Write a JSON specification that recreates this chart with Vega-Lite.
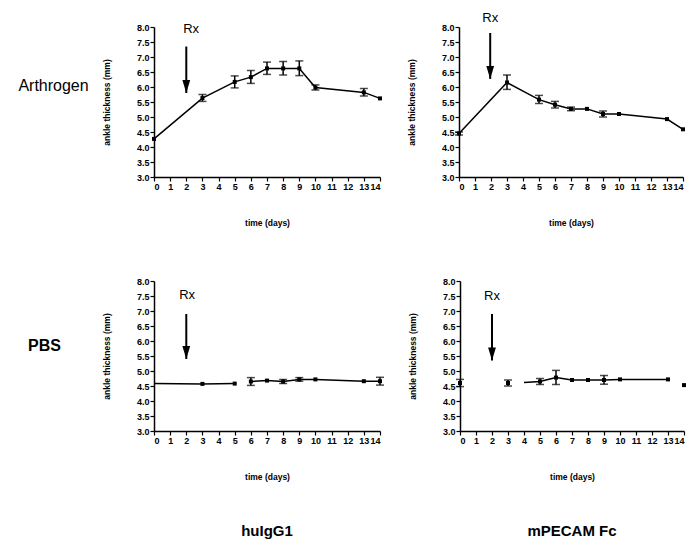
{
  "$schema": "https://vega.github.io/schema/vega-lite/v6.json",
  "background": "white",
  "padding": {"left": 0, "top": 11, "right": 0, "bottom": 0},
  "config": {
    "view": {"stroke": null},
    "font": "Liberation Sans",
    "axis": {
      "domainColor": "black", "tickColor": "black", "labelColor": "black", "titleColor": "black",
      "labelFont": "Liberation Sans", "labelFontWeight": "bold", "labelFontSize": 9,
      "titleFont": "Liberation Sans", "titleFontSize": 8.5, "titleFontWeight": "bold",
      "grid": false, "domainWidth": 1.5, "tickWidth": 1.2, "tickSize": 4, "labelPadding": 1,
      "labelOverlap": false
    },
    "axisX": {"titlePadding": 27},
    "axisY": {"titlePadding": 25}
  },
  "datasets": {
    "pts": [
      {"p": "A_hu", "day": 0, "mean": 4.27, "lo": null, "hi": null, "seg": "a", "m": 1},
      {"p": "A_hu", "day": 3, "mean": 5.63, "lo": 5.52, "hi": 5.75, "seg": "a", "m": 1},
      {"p": "A_hu", "day": 5, "mean": 6.17, "lo": 5.97, "hi": 6.37, "seg": "a", "m": 1},
      {"p": "A_hu", "day": 6, "mean": 6.33, "lo": 6.12, "hi": 6.55, "seg": "a", "m": 1},
      {"p": "A_hu", "day": 7, "mean": 6.62, "lo": 6.42, "hi": 6.83, "seg": "a", "m": 1},
      {"p": "A_hu", "day": 8, "mean": 6.62, "lo": 6.40, "hi": 6.85, "seg": "a", "m": 1},
      {"p": "A_hu", "day": 9, "mean": 6.62, "lo": 6.38, "hi": 6.87, "seg": "a", "m": 1},
      {"p": "A_hu", "day": 10, "mean": 5.98, "lo": 5.90, "hi": 6.07, "seg": "a", "m": 1},
      {"p": "A_hu", "day": 13, "mean": 5.82, "lo": 5.70, "hi": 5.95, "seg": "a", "m": 1},
      {"p": "A_hu", "day": 14, "mean": 5.62, "lo": null, "hi": null, "seg": "a", "m": 1},

      {"p": "A_mp", "day": 0, "mean": 4.45, "lo": 4.40, "hi": 4.50, "seg": "a", "m": 1},
      {"p": "A_mp", "day": 3, "mean": 6.15, "lo": 5.92, "hi": 6.40, "seg": "a", "m": 1},
      {"p": "A_mp", "day": 5, "mean": 5.58, "lo": 5.45, "hi": 5.72, "seg": "a", "m": 1},
      {"p": "A_mp", "day": 6, "mean": 5.41, "lo": 5.30, "hi": 5.52, "seg": "a", "m": 1},
      {"p": "A_mp", "day": 7, "mean": 5.27, "lo": 5.21, "hi": 5.33, "seg": "a", "m": 1},
      {"p": "A_mp", "day": 8, "mean": 5.27, "lo": null, "hi": null, "seg": "a", "m": 1},
      {"p": "A_mp", "day": 9, "mean": 5.10, "lo": 5.00, "hi": 5.20, "seg": "a", "m": 1},
      {"p": "A_mp", "day": 10, "mean": 5.10, "lo": null, "hi": null, "seg": "a", "m": 1},
      {"p": "A_mp", "day": 13, "mean": 4.93, "lo": null, "hi": null, "seg": "a", "m": 1},
      {"p": "A_mp", "day": 14, "mean": 4.59, "lo": null, "hi": null, "seg": "a", "m": 1},

      {"p": "P_hu", "day": 0, "mean": 4.58, "lo": null, "hi": null, "seg": "a", "m": 0},
      {"p": "P_hu", "day": 3, "mean": 4.57, "lo": null, "hi": null, "seg": "a", "m": 1},
      {"p": "P_hu", "day": 5, "mean": 4.58, "lo": null, "hi": null, "seg": "a", "m": 1},
      {"p": "P_hu", "day": 6, "mean": 4.65, "lo": 4.52, "hi": 4.78, "seg": "b", "m": 1},
      {"p": "P_hu", "day": 7, "mean": 4.68, "lo": null, "hi": null, "seg": "b", "m": 1},
      {"p": "P_hu", "day": 8, "mean": 4.65, "lo": 4.58, "hi": 4.72, "seg": "b", "m": 1},
      {"p": "P_hu", "day": 9, "mean": 4.72, "lo": 4.66, "hi": 4.78, "seg": "b", "m": 1},
      {"p": "P_hu", "day": 10, "mean": 4.72, "lo": null, "hi": null, "seg": "b", "m": 1},
      {"p": "P_hu", "day": 13, "mean": 4.66, "lo": null, "hi": null, "seg": "b", "m": 1},
      {"p": "P_hu", "day": 14, "mean": 4.66, "lo": 4.53, "hi": 4.79, "seg": "b", "m": 1},

      {"p": "P_mp", "day": 0, "mean": 4.60, "lo": 4.48, "hi": 4.72, "seg": "a", "m": 1},
      {"p": "P_mp", "day": 3, "mean": 4.60, "lo": 4.50, "hi": 4.70, "seg": "b", "m": 1},
      {"p": "P_mp", "day": 4, "mean": 4.62, "lo": null, "hi": null, "seg": "c", "m": 0},
      {"p": "P_mp", "day": 5, "mean": 4.65, "lo": 4.55, "hi": 4.75, "seg": "c", "m": 1},
      {"p": "P_mp", "day": 6, "mean": 4.78, "lo": 4.55, "hi": 5.02, "seg": "c", "m": 1},
      {"p": "P_mp", "day": 7, "mean": 4.70, "lo": null, "hi": null, "seg": "c", "m": 1},
      {"p": "P_mp", "day": 8, "mean": 4.70, "lo": null, "hi": null, "seg": "c", "m": 1},
      {"p": "P_mp", "day": 9, "mean": 4.70, "lo": 4.56, "hi": 4.85, "seg": "c", "m": 1},
      {"p": "P_mp", "day": 10, "mean": 4.72, "lo": null, "hi": null, "seg": "c", "m": 1},
      {"p": "P_mp", "day": 13, "mean": 4.72, "lo": null, "hi": null, "seg": "c", "m": 1},
      {"p": "P_mp", "day": 14, "mean": 4.53, "lo": null, "hi": null, "seg": "d", "m": 1}
    ],
    "rx": [
      {"p": "A_hu", "x": 2, "top": 7.35, "tip": 5.8, "lx": 2.3, "ly": 7.95, "t": "Rx"},
      {"p": "A_mp", "x": 1.95, "top": 7.8, "tip": 6.27, "lx": 1.95, "ly": 8.3, "t": "Rx"},
      {"p": "P_hu", "x": 2, "top": 6.9, "tip": 5.4, "lx": 2.05, "ly": 7.53, "t": "Rx"},
      {"p": "P_mp", "x": 2, "top": 6.9, "tip": 5.35, "lx": 2.0, "ly": 7.5, "t": "Rx"}
    ]
  },
  "vconcat": [
    {
      "hconcat": [
        {
          "hconcat": [
            {
              "width": 95, "height": 150,
              "data": {"values": [{"t": "Arthrogen"}]},
              "mark": {"type": "text", "fontSize": 16, "dy": -16, "dx": 6, "color": "black"},
              "encoding": {"text": {"field": "t"}}
            },
            {
              "width": 226, "height": 150,
              "layer": [
                {
                  "data": {"name": "pts"},
                  "transform": [{"filter": "datum.p == 'A_hu'"}],
                  "mark": {"type": "line", "color": "black", "strokeWidth": 1.5},
                  "encoding": {
                    "x": {"field": "day", "type": "quantitative", "title": "time (days)", "scale": {"domain": [0, 14], "nice": false}, "axis": {"values": [0,1,2,3,4,5,6,7,8,9,10,11,12,13,14], "format": "d", "labelOverlap": false}},
                    "y": {"field": "mean", "type": "quantitative", "title": "ankle thickness (mm)", "scale": {"domain": [3, 8], "nice": false, "zero": false}, "axis": {"values": [3,3.5,4,4.5,5,5.5,6,6.5,7,7.5,8], "format": ".1f", "labelOverlap": false}},
                    "detail": {"field": "seg"}
                  }
                },
                {
                  "data": {"name": "pts"},
                  "transform": [{"filter": "datum.p == 'A_hu' && datum.lo != null"}],
                  "mark": {"type": "errorbar", "color": "black", "ticks": {"size": 8, "thickness": 1.5}, "thickness": 1.5},
                  "encoding": {
                    "x": {"field": "day", "type": "quantitative", "title": "time (days)", "axis": {"values": [0,1,2,3,4,5,6,7,8,9,10,11,12,13,14], "format": "d", "labelOverlap": false}},
                    "y": {"field": "lo", "type": "quantitative", "title": "ankle thickness (mm)", "axis": {"values": [3,3.5,4,4.5,5,5.5,6,6.5,7,7.5,8], "format": ".1f", "labelOverlap": false}},
                    "y2": {"field": "hi"}}
                },
                {
                  "data": {"name": "pts"},
                  "transform": [{"filter": "datum.p == 'A_hu' && datum.m == 1"}],
                  "mark": {"type": "point", "shape": "square", "filled": true, "color": "black", "size": 16, "opacity": 1},
                  "encoding": {
                    "x": {"field": "day", "type": "quantitative", "title": "time (days)", "axis": {"values": [0,1,2,3,4,5,6,7,8,9,10,11,12,13,14], "format": "d", "labelOverlap": false}},
                    "y": {"field": "mean", "type": "quantitative", "title": "ankle thickness (mm)", "axis": {"values": [3,3.5,4,4.5,5,5.5,6,6.5,7,7.5,8], "format": ".1f", "labelOverlap": false}}}
                },
                {
                  "data": {"name": "rx"},
                  "transform": [{"filter": "datum.p == 'A_hu'"}],
                  "mark": {"type": "rule", "color": "black", "strokeWidth": 2, "clip": false},
                  "encoding": {
                    "x": {"field": "x", "type": "quantitative", "title": "time (days)", "axis": {"values": [0,1,2,3,4,5,6,7,8,9,10,11,12,13,14], "format": "d", "labelOverlap": false}},
                    "y": {"field": "top", "type": "quantitative", "title": "ankle thickness (mm)", "axis": {"values": [3,3.5,4,4.5,5,5.5,6,6.5,7,7.5,8], "format": ".1f", "labelOverlap": false}},
                    "y2": {"field": "tip"}}
                },
                {
                  "data": {"name": "rx"},
                  "transform": [{"filter": "datum.p == 'A_hu'"}],
                  "mark": {"type": "point", "shape": "M-0.6,-2L0.6,-2L0,0Z", "filled": true, "color": "black", "size": 169, "opacity": 1},
                  "encoding": {
                    "x": {"field": "x", "type": "quantitative", "title": "time (days)", "axis": {"values": [0,1,2,3,4,5,6,7,8,9,10,11,12,13,14], "format": "d", "labelOverlap": false}},
                    "y": {"field": "tip", "type": "quantitative", "title": "ankle thickness (mm)", "axis": {"values": [3,3.5,4,4.5,5,5.5,6,6.5,7,7.5,8], "format": ".1f", "labelOverlap": false}}}
                },
                {
                  "data": {"name": "rx"},
                  "transform": [{"filter": "datum.p == 'A_hu'"}],
                  "mark": {"type": "text", "fontSize": 13, "color": "black"},
                  "encoding": {
                    "x": {"field": "lx", "type": "quantitative", "title": "time (days)", "axis": {"values": [0,1,2,3,4,5,6,7,8,9,10,11,12,13,14], "format": "d", "labelOverlap": false}},
                    "y": {"field": "ly", "type": "quantitative", "title": "ankle thickness (mm)", "axis": {"values": [3,3.5,4,4.5,5,5.5,6,6.5,7,7.5,8], "format": ".1f", "labelOverlap": false}},
                    "text": {"field": "t"}}
                }
              ]
            }
          ],
          "spacing": 7
        },
        {
          "width": 224, "height": 150,
          "layer": [
            {
              "data": {"name": "pts"},
              "transform": [{"filter": "datum.p == 'A_mp'"}],
              "mark": {"type": "line", "color": "black", "strokeWidth": 1.5},
              "encoding": {
                "x": {"field": "day", "type": "quantitative", "title": "time (days)", "scale": {"domain": [0, 14], "nice": false}, "axis": {"values": [0,1,2,3,4,5,6,7,8,9,10,11,12,13,14], "format": "d", "labelOverlap": false}},
                "y": {"field": "mean", "type": "quantitative", "title": "ankle thickness (mm)", "scale": {"domain": [3, 8], "nice": false, "zero": false}, "axis": {"values": [3,3.5,4,4.5,5,5.5,6,6.5,7,7.5,8], "format": ".1f", "labelOverlap": false}},
                "detail": {"field": "seg"}
              }
            },
            {
              "data": {"name": "pts"},
              "transform": [{"filter": "datum.p == 'A_mp' && datum.lo != null"}],
              "mark": {"type": "errorbar", "color": "black", "ticks": {"size": 8, "thickness": 1.5}, "thickness": 1.5},
              "encoding": {
                "x": {"field": "day", "type": "quantitative", "title": "time (days)", "axis": {"values": [0,1,2,3,4,5,6,7,8,9,10,11,12,13,14], "format": "d", "labelOverlap": false}},
                "y": {"field": "lo", "type": "quantitative", "title": "ankle thickness (mm)", "axis": {"values": [3,3.5,4,4.5,5,5.5,6,6.5,7,7.5,8], "format": ".1f", "labelOverlap": false}},
                "y2": {"field": "hi"}}
            },
            {
              "data": {"name": "pts"},
              "transform": [{"filter": "datum.p == 'A_mp' && datum.m == 1"}],
              "mark": {"type": "point", "shape": "square", "filled": true, "color": "black", "size": 16, "opacity": 1},
              "encoding": {
                "x": {"field": "day", "type": "quantitative", "title": "time (days)", "axis": {"values": [0,1,2,3,4,5,6,7,8,9,10,11,12,13,14], "format": "d", "labelOverlap": false}},
                "y": {"field": "mean", "type": "quantitative", "title": "ankle thickness (mm)", "axis": {"values": [3,3.5,4,4.5,5,5.5,6,6.5,7,7.5,8], "format": ".1f", "labelOverlap": false}}}
            },
            {
              "data": {"name": "rx"},
              "transform": [{"filter": "datum.p == 'A_mp'"}],
              "mark": {"type": "rule", "color": "black", "strokeWidth": 2, "clip": false},
              "encoding": {
                "x": {"field": "x", "type": "quantitative", "title": "time (days)", "axis": {"values": [0,1,2,3,4,5,6,7,8,9,10,11,12,13,14], "format": "d", "labelOverlap": false}},
                "y": {"field": "top", "type": "quantitative", "title": "ankle thickness (mm)", "axis": {"values": [3,3.5,4,4.5,5,5.5,6,6.5,7,7.5,8], "format": ".1f", "labelOverlap": false}},
                "y2": {"field": "tip"}}
            },
            {
              "data": {"name": "rx"},
              "transform": [{"filter": "datum.p == 'A_mp'"}],
              "mark": {"type": "point", "shape": "M-0.6,-2L0.6,-2L0,0Z", "filled": true, "color": "black", "size": 169, "opacity": 1},
              "encoding": {
                "x": {"field": "x", "type": "quantitative", "title": "time (days)", "axis": {"values": [0,1,2,3,4,5,6,7,8,9,10,11,12,13,14], "format": "d", "labelOverlap": false}},
                "y": {"field": "tip", "type": "quantitative", "title": "ankle thickness (mm)", "axis": {"values": [3,3.5,4,4.5,5,5.5,6,6.5,7,7.5,8], "format": ".1f", "labelOverlap": false}}}
            },
            {
              "data": {"name": "rx"},
              "transform": [{"filter": "datum.p == 'A_mp'"}],
              "mark": {"type": "text", "fontSize": 13, "color": "black"},
              "encoding": {
                "x": {"field": "lx", "type": "quantitative", "title": "time (days)", "axis": {"values": [0,1,2,3,4,5,6,7,8,9,10,11,12,13,14], "format": "d", "labelOverlap": false}},
                "y": {"field": "ly", "type": "quantitative", "title": "ankle thickness (mm)", "axis": {"values": [3,3.5,4,4.5,5,5.5,6,6.5,7,7.5,8], "format": ".1f", "labelOverlap": false}},
                "text": {"field": "t"}}
            }
          ]
        }
      ],
      "spacing": 24
    },
    {
      "hconcat": [
        {
          "hconcat": [
            {
              "width": 95, "height": 150,
              "data": {"values": [{"t": "PBS"}]},
              "mark": {"type": "text", "fontSize": 16, "fontWeight": "bold", "dy": -10, "dx": -3, "color": "black"},
              "encoding": {"text": {"field": "t"}}
            },
            {
              "width": 226, "height": 150,
              "title": {"text": "huIgG1", "orient": "bottom", "fontSize": 15, "fontWeight": "bold", "font": "Liberation Sans", "color": "black", "offset": 43},
              "layer": [
                {
                  "data": {"name": "pts"},
                  "transform": [{"filter": "datum.p == 'P_hu'"}],
                  "mark": {"type": "line", "color": "black", "strokeWidth": 1.5},
                  "encoding": {
                    "x": {"field": "day", "type": "quantitative", "title": "time (days)", "scale": {"domain": [0, 14], "nice": false}, "axis": {"values": [0,1,2,3,4,5,6,7,8,9,10,11,12,13,14], "format": "d", "labelOverlap": false}},
                    "y": {"field": "mean", "type": "quantitative", "title": "ankle thickness (mm)", "scale": {"domain": [3, 8], "nice": false, "zero": false}, "axis": {"values": [3,3.5,4,4.5,5,5.5,6,6.5,7,7.5,8], "format": ".1f", "labelOverlap": false}},
                    "detail": {"field": "seg"}
                  }
                },
                {
                  "data": {"name": "pts"},
                  "transform": [{"filter": "datum.p == 'P_hu' && datum.lo != null"}],
                  "mark": {"type": "errorbar", "color": "black", "ticks": {"size": 8, "thickness": 1.5}, "thickness": 1.5},
                  "encoding": {
                    "x": {"field": "day", "type": "quantitative", "title": "time (days)", "axis": {"values": [0,1,2,3,4,5,6,7,8,9,10,11,12,13,14], "format": "d", "labelOverlap": false}},
                    "y": {"field": "lo", "type": "quantitative", "title": "ankle thickness (mm)", "axis": {"values": [3,3.5,4,4.5,5,5.5,6,6.5,7,7.5,8], "format": ".1f", "labelOverlap": false}},
                    "y2": {"field": "hi"}}
                },
                {
                  "data": {"name": "pts"},
                  "transform": [{"filter": "datum.p == 'P_hu' && datum.m == 1"}],
                  "mark": {"type": "point", "shape": "square", "filled": true, "color": "black", "size": 16, "opacity": 1},
                  "encoding": {
                    "x": {"field": "day", "type": "quantitative", "title": "time (days)", "axis": {"values": [0,1,2,3,4,5,6,7,8,9,10,11,12,13,14], "format": "d", "labelOverlap": false}},
                    "y": {"field": "mean", "type": "quantitative", "title": "ankle thickness (mm)", "axis": {"values": [3,3.5,4,4.5,5,5.5,6,6.5,7,7.5,8], "format": ".1f", "labelOverlap": false}}}
                },
                {
                  "data": {"name": "rx"},
                  "transform": [{"filter": "datum.p == 'P_hu'"}],
                  "mark": {"type": "rule", "color": "black", "strokeWidth": 2, "clip": false},
                  "encoding": {
                    "x": {"field": "x", "type": "quantitative", "title": "time (days)", "axis": {"values": [0,1,2,3,4,5,6,7,8,9,10,11,12,13,14], "format": "d", "labelOverlap": false}},
                    "y": {"field": "top", "type": "quantitative", "title": "ankle thickness (mm)", "axis": {"values": [3,3.5,4,4.5,5,5.5,6,6.5,7,7.5,8], "format": ".1f", "labelOverlap": false}},
                    "y2": {"field": "tip"}}
                },
                {
                  "data": {"name": "rx"},
                  "transform": [{"filter": "datum.p == 'P_hu'"}],
                  "mark": {"type": "point", "shape": "M-0.6,-2L0.6,-2L0,0Z", "filled": true, "color": "black", "size": 169, "opacity": 1},
                  "encoding": {
                    "x": {"field": "x", "type": "quantitative", "title": "time (days)", "axis": {"values": [0,1,2,3,4,5,6,7,8,9,10,11,12,13,14], "format": "d", "labelOverlap": false}},
                    "y": {"field": "tip", "type": "quantitative", "title": "ankle thickness (mm)", "axis": {"values": [3,3.5,4,4.5,5,5.5,6,6.5,7,7.5,8], "format": ".1f", "labelOverlap": false}}}
                },
                {
                  "data": {"name": "rx"},
                  "transform": [{"filter": "datum.p == 'P_hu'"}],
                  "mark": {"type": "text", "fontSize": 13, "color": "black"},
                  "encoding": {
                    "x": {"field": "lx", "type": "quantitative", "title": "time (days)", "axis": {"values": [0,1,2,3,4,5,6,7,8,9,10,11,12,13,14], "format": "d", "labelOverlap": false}},
                    "y": {"field": "ly", "type": "quantitative", "title": "ankle thickness (mm)", "axis": {"values": [3,3.5,4,4.5,5,5.5,6,6.5,7,7.5,8], "format": ".1f", "labelOverlap": false}},
                    "text": {"field": "t"}}
                }
              ]
            }
          ],
          "spacing": 7
        },
        {
          "width": 224, "height": 150,
          "title": {"text": "mPECAM Fc", "orient": "bottom", "fontSize": 15, "fontWeight": "bold", "font": "Liberation Sans", "color": "black", "offset": 43},
          "layer": [
            {
              "data": {"name": "pts"},
              "transform": [{"filter": "datum.p == 'P_mp'"}],
              "mark": {"type": "line", "color": "black", "strokeWidth": 1.5},
              "encoding": {
                "x": {"field": "day", "type": "quantitative", "title": "time (days)", "scale": {"domain": [0, 14], "nice": false}, "axis": {"values": [0,1,2,3,4,5,6,7,8,9,10,11,12,13,14], "format": "d", "labelOverlap": false}},
                "y": {"field": "mean", "type": "quantitative", "title": "ankle thickness (mm)", "scale": {"domain": [3, 8], "nice": false, "zero": false}, "axis": {"values": [3,3.5,4,4.5,5,5.5,6,6.5,7,7.5,8], "format": ".1f", "labelOverlap": false}},
                "detail": {"field": "seg"}
              }
            },
            {
              "data": {"name": "pts"},
              "transform": [{"filter": "datum.p == 'P_mp' && datum.lo != null"}],
              "mark": {"type": "errorbar", "color": "black", "ticks": {"size": 8, "thickness": 1.5}, "thickness": 1.5},
              "encoding": {
                "x": {"field": "day", "type": "quantitative", "title": "time (days)", "axis": {"values": [0,1,2,3,4,5,6,7,8,9,10,11,12,13,14], "format": "d", "labelOverlap": false}},
                "y": {"field": "lo", "type": "quantitative", "title": "ankle thickness (mm)", "axis": {"values": [3,3.5,4,4.5,5,5.5,6,6.5,7,7.5,8], "format": ".1f", "labelOverlap": false}},
                "y2": {"field": "hi"}}
            },
            {
              "data": {"name": "pts"},
              "transform": [{"filter": "datum.p == 'P_mp' && datum.m == 1"}],
              "mark": {"type": "point", "shape": "square", "filled": true, "color": "black", "size": 16, "opacity": 1},
              "encoding": {
                "x": {"field": "day", "type": "quantitative", "title": "time (days)", "axis": {"values": [0,1,2,3,4,5,6,7,8,9,10,11,12,13,14], "format": "d", "labelOverlap": false}},
                "y": {"field": "mean", "type": "quantitative", "title": "ankle thickness (mm)", "axis": {"values": [3,3.5,4,4.5,5,5.5,6,6.5,7,7.5,8], "format": ".1f", "labelOverlap": false}}}
            },
            {
              "data": {"name": "rx"},
              "transform": [{"filter": "datum.p == 'P_mp'"}],
              "mark": {"type": "rule", "color": "black", "strokeWidth": 2, "clip": false},
              "encoding": {
                "x": {"field": "x", "type": "quantitative", "title": "time (days)", "axis": {"values": [0,1,2,3,4,5,6,7,8,9,10,11,12,13,14], "format": "d", "labelOverlap": false}},
                "y": {"field": "top", "type": "quantitative", "title": "ankle thickness (mm)", "axis": {"values": [3,3.5,4,4.5,5,5.5,6,6.5,7,7.5,8], "format": ".1f", "labelOverlap": false}},
                "y2": {"field": "tip"}}
            },
            {
              "data": {"name": "rx"},
              "transform": [{"filter": "datum.p == 'P_mp'"}],
              "mark": {"type": "point", "shape": "M-0.6,-2L0.6,-2L0,0Z", "filled": true, "color": "black", "size": 169, "opacity": 1},
              "encoding": {
                "x": {"field": "x", "type": "quantitative", "title": "time (days)", "axis": {"values": [0,1,2,3,4,5,6,7,8,9,10,11,12,13,14], "format": "d", "labelOverlap": false}},
                "y": {"field": "tip", "type": "quantitative", "title": "ankle thickness (mm)", "axis": {"values": [3,3.5,4,4.5,5,5.5,6,6.5,7,7.5,8], "format": ".1f", "labelOverlap": false}}}
            },
            {
              "data": {"name": "rx"},
              "transform": [{"filter": "datum.p == 'P_mp'"}],
              "mark": {"type": "text", "fontSize": 13, "color": "black"},
              "encoding": {
                "x": {"field": "lx", "type": "quantitative", "title": "time (days)", "axis": {"values": [0,1,2,3,4,5,6,7,8,9,10,11,12,13,14], "format": "d", "labelOverlap": false}},
                "y": {"field": "ly", "type": "quantitative", "title": "ankle thickness (mm)", "axis": {"values": [3,3.5,4,4.5,5,5.5,6,6.5,7,7.5,8], "format": ".1f", "labelOverlap": false}},
                "text": {"field": "t"}}
            }
          ]
        }
      ],
      "spacing": 24
    }
  ],
  "spacing": 50
}
